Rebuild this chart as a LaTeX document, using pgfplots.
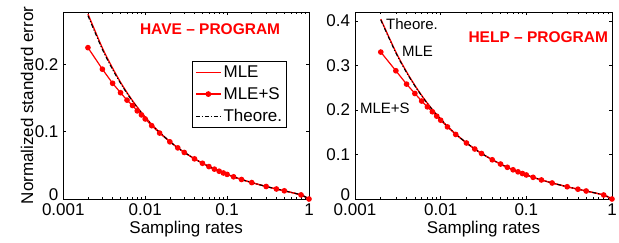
\documentclass[border=0pt]{standalone}
\usepackage{fontspec}
\setmainfont{Liberation Sans}
\usepackage{pgfplots}
\pgfplotsset{compat=1.18}
\usepackage{pgfplotstable}

\pgfplotstableread{
p theo mle mles
0.002 0.2725 0.2750 0.225
0.003 0.2224 0.2245 0.193
0.004 0.1925 0.1945 0.172
0.005 0.1721 0.1735 0.158
0.006 0.1570 0.1582 0.147
0.007 0.1453 0.1462 0.139
0.008 0.1359 0.1366 0.131
0.009 0.1280 0.1286 0.125
0.01 0.1214 0.1219 0.119
0.012 0.1107 0.1110 0.109
0.015 0.0989 0.0990 0.098
0.02 0.0854 0.0855 0.0850
0.025 0.0762 0.0762 0.0760
0.03 0.0694 0.0694 0.0692
0.04 0.0598 0.0598 0.0597
0.05 0.0532 0.0532 0.0531
0.06 0.0483 0.0483 0.0482
0.07 0.0445 0.0445 0.0444
0.08 0.0414 0.0414 0.0413
0.09 0.0388 0.0388 0.0387
0.1 0.0366 0.0366 0.0366
0.12 0.0330 0.0330 0.0330
0.15 0.0290 0.0290 0.0290
0.2 0.0244 0.0244 0.0244
0.3 0.0186 0.0186 0.0186
0.4 0.0149 0.0149 0.0149
0.5 0.0122 0.0122 0.0122
0.8 0.0061 0.0061 0.0061
1 0.0 0.0 0.0
}\lefttab

\pgfplotstableread{
p theo mle mles
0.002 0.4021 0.4040 0.330
0.003 0.3281 0.3300 0.288
0.004 0.2840 0.2856 0.258
0.005 0.2539 0.2552 0.237
0.006 0.2317 0.2327 0.220
0.007 0.2144 0.2152 0.207
0.008 0.2004 0.2010 0.196
0.009 0.1889 0.1893 0.186
0.01 0.1791 0.1794 0.177
0.012 0.1633 0.1635 0.162
0.015 0.1459 0.1460 0.145
0.02 0.1260 0.1260 0.1258
0.025 0.1124 0.1124 0.1123
0.03 0.1023 0.1023 0.1022
0.04 0.0882 0.0882 0.0881
0.05 0.0785 0.0785 0.0785
0.06 0.0712 0.0712 0.0712
0.07 0.0656 0.0656 0.0656
0.08 0.0610 0.0610 0.0610
0.09 0.0572 0.0572 0.0572
0.1 0.0540 0.0540 0.0540
0.12 0.0487 0.0487 0.0487
0.15 0.0428 0.0428 0.0428
0.2 0.0360 0.0360 0.0360
0.3 0.0275 0.0275 0.0275
0.4 0.0220 0.0220 0.0220
0.5 0.0180 0.0180 0.0180
0.8 0.0090 0.0090 0.0090
1 0.0 0.0 0.0
}\righttab

\begin{document}
\begin{tikzpicture}
\useasboundingbox (0,0) rectangle (619pt,242pt);
\begin{axis}[
  scale only axis,
  xmode=log,
  xmin=0.001, xmax=1, ymin=0, ymax=0.278,
  at={(63.3pt,43pt)}, anchor=south west,
  width=245.7pt, height=187pt,
  xtick={0.001,0.01,0.1,1},
  xticklabels={0.001,0.01,0.1,1},
  minor xtick={0.002,0.003,0.004,0.005,0.006,0.007,0.008,0.009,0.02,0.03,0.04,0.05,0.06,0.07,0.08,0.09,0.2,0.3,0.4,0.5,0.6,0.7,0.8,0.9},
  ytick={0.1,0.2}, yticklabels={0.1,0.2},
  extra y ticks={0}, extra y tick labels={0},
  extra y tick style={yticklabel style={yshift=4pt}},
  tick align=inside,
  major tick length=3pt,
  minor tick length=2pt,
  axis line style={line width=0.8pt},
  every tick/.style={black, line width=0.6pt},
  tick label style={font=\fontsize{17}{17}\selectfont, inner sep=1pt},
  xticklabel style={yshift=-3.7pt},
  yticklabel style={xshift=-3.7pt},
  xlabel={Sampling rates},
  xlabel style={yshift=-1pt, font=\fontsize{17}{17}\selectfont},
  ylabel={Normalized standard error},
  ylabel style={yshift=-3pt, font=\fontsize{17}{17}\selectfont},
  clip=false,
  /pgf/number format/assume math mode=true,
  legend style={at={(0.91,0.738)}, anchor=north east, draw=black,
    font=\fontsize{17}{17}\selectfont, inner sep=2.5pt, row sep=4.5pt,
    cells={anchor=west}},
  legend image code/.code={\draw[mark repeat=2,mark phase=2,#1] plot coordinates {(0pt,0pt) (12.5pt,0pt) (25pt,0pt)};},
]
\addlegendimage{red, line width=1.5pt}
\addlegendentry{MLE}
\addlegendimage{red, line width=1.3pt, mark=*, mark size=2.2pt, mark options={solid, fill=red}}
\addlegendentry{MLE+S}
\addlegendimage{black, line width=1.3pt, dash pattern=on 4pt off 2pt on 1pt off 2pt}
\addlegendentry{Theore.}
\addplot[forget plot, red, line width=1.3pt, smooth] table[x=p,y=mle]{\lefttab};
\addplot[forget plot, red, line width=1.2pt, mark=*, mark size=2.2pt, mark options={solid, fill=red}] table[x=p,y=mles]{\lefttab};
\addplot[forget plot, black, line width=1.1pt, smooth, dash pattern=on 4pt off 2pt on 1pt off 2pt] table[x=p,y=theo]{\lefttab};
\node[red, font=\bfseries\fontsize{15.5}{15.5}\selectfont, anchor=west] at (rel axis cs:0.298,0.908) {HAVE -- PROGRAM};
\end{axis}

\begin{axis}[
  scale only axis,
  xmode=log,
  xmin=0.001, xmax=1, ymin=0, ymax=0.42,
  at={(355pt,43pt)}, anchor=south west,
  width=257pt, height=187pt,
  xtick={0.001,0.01,0.1,1},
  xticklabels={0.001,0.01,0.1,1},
  minor xtick={0.002,0.003,0.004,0.005,0.006,0.007,0.008,0.009,0.02,0.03,0.04,0.05,0.06,0.07,0.08,0.09,0.2,0.3,0.4,0.5,0.6,0.7,0.8,0.9},
  ytick={0.1,0.2,0.3,0.4}, yticklabels={0.1,0.2,0.3,0.4},
  extra y ticks={0}, extra y tick labels={0},
  extra y tick style={yticklabel style={yshift=4pt}},
  tick align=inside,
  major tick length=3pt,
  minor tick length=2pt,
  axis line style={line width=0.8pt},
  every tick/.style={black, line width=0.6pt},
  tick label style={font=\fontsize{17}{17}\selectfont, inner sep=1pt},
  xticklabel style={yshift=-3.7pt},
  yticklabel style={xshift=-3.7pt},
  xlabel={Sampling rates},
  xlabel style={yshift=-1pt, font=\fontsize{17}{17}\selectfont},
  clip=false,
  /pgf/number format/assume math mode=true,
]
\addplot[red, line width=1.3pt, smooth] table[x=p,y=mle]{\righttab};
\addplot[red, line width=1.2pt, mark=*, mark size=2.2pt, mark options={solid, fill=red}] table[x=p,y=mles]{\righttab};
\addplot[black, line width=1.1pt, smooth, dash pattern=on 4pt off 2pt on 1pt off 2pt] table[x=p,y=theo]{\righttab};
\node[red, font=\bfseries\fontsize{15.5}{15.5}\selectfont, anchor=west] at (rel axis cs:0.428,0.865) {HELP -- PROGRAM};
\node[font=\fontsize{15}{15}\selectfont, anchor=west, inner sep=0pt] at (axis cs:0.0023,0.392) {Theore.};
\node[font=\fontsize{15}{15}\selectfont, anchor=west, inner sep=0pt] at (axis cs:0.00353,0.332) {MLE};
\node[font=\fontsize{15}{15}\selectfont, anchor=west, inner sep=0pt] at (axis cs:0.00114,0.203) {MLE+S};
\end{axis}
\end{tikzpicture}
\end{document}
